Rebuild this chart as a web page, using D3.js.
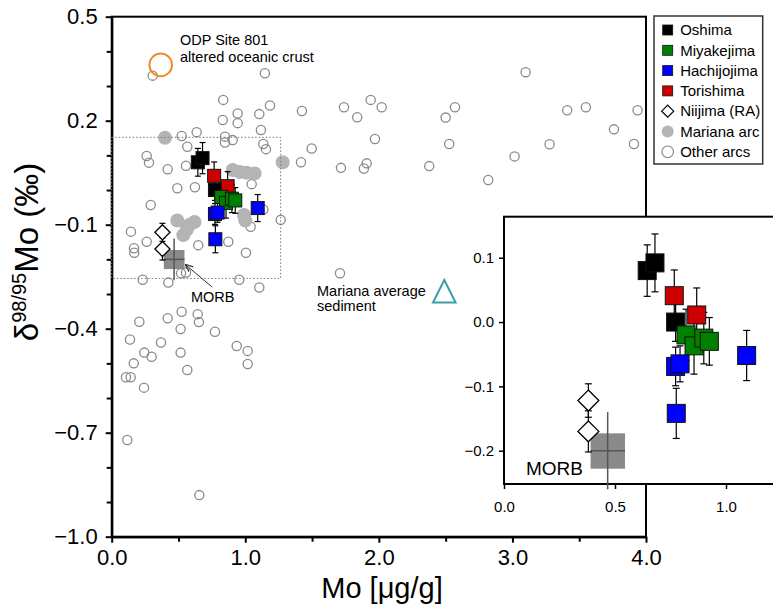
<!DOCTYPE html>
<html>
<head>
<meta charset="utf-8">
<title></title>
<script src="https://d3js.org/d3.v7.min.js"></script>
<style>
body { margin: 0; background: #fff; }
text { font-family: Arial, "Liberation Sans", sans-serif; }
</style>
</head>
<body>
<script>
var w = 773, h = 606;

// [Mo ug/g, d98/95Mo permil, 2sd]
var oshima      = [[0.645, 0.080, 0.040], [0.68, 0.092, 0.045], [0.773, 0.000, 0.030]];
var torishima   = [[0.767, 0.041, 0.040], [0.868, 0.011, 0.042]];
var miyakejima  = [[0.82, -0.020, 0.040], [0.856, -0.037, 0.044], [0.90, -0.025, 0.040], [0.925, -0.030, 0.037]];
var hachijojima = [[0.773, -0.069, 0.030], [0.793, -0.065, 0.028], [0.776, -0.142, 0.039], [1.093, -0.052, 0.039]];
var niijima     = [[0.38, -0.122, 0.026], [0.38, -0.170, 0.032]];

var marianaArc = [[0.399, 0.151], [1.28, 0.080], [0.906, 0.058], [0.96, 0.052], [1.01, 0.050], [1.07, 0.048],
  [0.491, -0.088], [0.581, -0.101], [0.62, -0.092], [0.561, -0.115], [0.536, -0.130], [0.99, -0.072], [1.0, -0.088]];

var otherArcs = [[0.307, 0.330], [1.147, 0.337], [3.099, 0.340],
  [0.835, 0.260], [1.185, 0.244], [0.943, 0.221], [1.105, 0.219], [0.831, 0.202], [0.943, 0.193], [1.424, 0.228],
  [1.739, 0.239], [1.939, 0.260], [2.021, 0.239], [1.838, 0.210], [2.570, 0.239], [2.50, 0.209], [3.41, 0.230],
  [3.55, 0.239], [3.937, 0.230], [3.76, 0.175],
  [0.636, 0.167], [0.524, 0.156], [0.848, 0.154], [0.906, 0.144], [0.848, 0.137], [1.117, 0.173], [1.135, 0.133],
  [1.155, 0.118], [1.497, 0.120], [1.971, 0.147], [2.527, 0.133], [3.278, 0.132], [3.91, 0.133], [3.016, 0.097],
  [0.566, 0.125], [0.262, 0.098], [0.279, 0.079], [0.419, 0.060], [0.556, 0.070], [1.417, 0.080], [1.716, 0.064],
  [1.909, 0.077], [1.888, 0.062], [2.377, 0.069], [2.819, 0.029],
  [0.491, 0.005], [0.623, 0.008], [1.048, 0.017],
  [0.292, -0.043], [1.135, -0.056], [1.265, -0.086], [1.04, -0.106],
  [0.144, -0.120], [0.262, -0.149], [0.167, -0.168], [0.169, -0.181], [0.648, -0.159], [0.873, -0.149], [1.005, -0.181],
  [1.709, -0.240], [0.519, -0.240], [0.556, -0.238], [0.232, -0.259], [0.424, -0.267], [0.955, -0.259], [1.105, -0.281],
  [0.207, -0.380], [0.419, -0.370], [0.524, -0.351], [0.644, -0.358], [0.653, -0.381], [0.516, -0.401], [0.773, -0.409],
  [0.137, -0.431], [0.369, -0.440], [0.244, -0.469], [0.299, -0.481], [0.516, -0.469], [0.936, -0.450], [1.018, -0.464],
  [1.018, -0.502], [0.165, -0.500], [0.566, -0.519], [0.107, -0.540], [0.142, -0.540], [0.242, -0.570],
  [0.117, -0.721], [0.656, -0.880]];

var odp801 = [0.367, 0.361];
var marianaSed = [2.49, -0.292];
// MORB: center, box extent, error extent
var morb = { x: 0.467, y: -0.2, x0: 0.39, x1: 0.545, y0: -0.228, y1: -0.173, e0: -0.26, e1: -0.14 };
var zoomBox = { x0: 0, x1: 1.265, y0: -0.255, y1: 0.152 };

var xTicks = [0, 1, 2, 3, 4];
var xMinor = [0.5, 1.5, 2.5, 3.5];
var yTicks = [-1.0, -0.7, -0.4, -0.1, 0.2, 0.5];
var yMinor = [-0.9, -0.8, -0.6, -0.5, -0.3, -0.2, 0.0, 0.1, 0.3, 0.4];
var insetXTicks = [0, 0.5, 1.0];
var insetYTicks = [-0.2, -0.1, 0.0, 0.1];

var series = [
  { name: "Oshima", data: oshima, color: "#000000" },
  { name: "Torishima", data: torishima, color: "#cc0000" },
  { name: "Miyakejima", data: miyakejima, color: "#008000" },
  { name: "Hachijojima", data: hachijojima, color: "#0000ff" }
];

var svg = d3.select("body").append("svg").attr("width", w).attr("height", h);

var x = d3.scaleLinear().domain([0, 4]).range([111.7, 646]);
var y = d3.scaleLinear().domain([-1, 0.5]).range([536.7, 16.7]);

// frame
svg.append("rect")
  .attr("x", x(0)).attr("y", y(0.5))
  .attr("width", x(4) - x(0)).attr("height", y(-1) - y(0.5))
  .attr("fill", "none").attr("stroke", "#000").attr("stroke-width", 2);

function fmt(d) { return d3.format(".1f")(d); }

var xAxis = svg.append("g").attr("transform", "translate(0," + y(-1) + ")")
  .call(d3.axisBottom(x).tickValues(xTicks).tickFormat(fmt).tickSize(6).tickSizeOuter(0).tickPadding(7));
svg.append("g").attr("transform", "translate(0," + y(-1) + ")")
  .call(d3.axisBottom(x).tickValues(xMinor).tickFormat("").tickSize(5).tickSizeOuter(0));
var yAxis = svg.append("g").attr("transform", "translate(" + x(0) + ",0)")
  .call(d3.axisLeft(y).tickValues(yTicks).tickFormat(fmt).tickSize(6).tickSizeOuter(0).tickPadding(8));
svg.append("g").attr("transform", "translate(" + x(0) + ",0)")
  .call(d3.axisLeft(y).tickValues(yMinor).tickFormat("").tickSize(5).tickSizeOuter(0));
svg.selectAll(".domain").attr("stroke-width", 2);
svg.selectAll(".tick line").attr("stroke-width", 2);
xAxis.selectAll("text").attr("font-size", 22).attr("fill", "#000");
yAxis.selectAll("text").attr("font-size", 22).attr("fill", "#000");

// axis titles
svg.append("text").attr("x", 382).attr("y", 598).attr("text-anchor", "middle")
  .attr("font-size", 29).text("Mo [\u03bcg/g]");
var yt = svg.append("text").attr("transform", "translate(38,252) rotate(-90)")
  .attr("text-anchor", "middle").attr("font-size", 33);
yt.append("tspan").text("\u03b4");
yt.append("tspan").attr("font-size", 20).attr("dy", -12).text("98/95");
yt.append("tspan").attr("dy", 12).text("Mo (\u2030)");

// other arcs
svg.append("g").selectAll("circle").data(otherArcs).enter().append("circle")
  .attr("cx", function(d) { return x(d[0]); })
  .attr("cy", function(d) { return y(d[1]); })
  .attr("r", 4.6).attr("fill", "none").attr("stroke", "#8a8a8a").attr("stroke-width", 1.3);

// mariana arc
svg.append("g").selectAll("circle").data(marianaArc).enter().append("circle")
  .attr("cx", function(d) { return x(d[0]); })
  .attr("cy", function(d) { return y(d[1]); })
  .attr("r", 7).attr("fill", "#b4b4b4");

// zoom area
svg.append("rect")
  .attr("x", x(zoomBox.x0)).attr("y", y(zoomBox.y1))
  .attr("width", x(zoomBox.x1) - x(zoomBox.x0)).attr("height", y(zoomBox.y0) - y(zoomBox.y1))
  .attr("fill", "none").attr("stroke", "#777").attr("stroke-width", 1).attr("stroke-dasharray", "1.5,2");

// ODP site 801
svg.append("circle").attr("cx", x(odp801[0])).attr("cy", y(odp801[1])).attr("r", 11.3)
  .attr("fill", "none").attr("stroke", "#f08a2c").attr("stroke-width", 2);
svg.append("text").attr("x", 180).attr("y", 45).attr("font-size", 14.5).text("ODP Site 801");
svg.append("text").attr("x", 180).attr("y", 61.5).attr("font-size", 14.5).text("altered oceanic crust");

// Mariana sediment
var tx = x(marianaSed[0]), ty = y(marianaSed[1]);
svg.append("path")
  .attr("d", "M" + tx + "," + (ty - 11.3) + "L" + (tx + 11.3) + "," + (ty + 11.3) + "L" + (tx - 11.3) + "," + (ty + 11.3) + "Z")
  .attr("fill", "none").attr("stroke", "#3b9ea6").attr("stroke-width", 2);
svg.append("text").attr("x", 317).attr("y", 296).attr("font-size", 14.5).text("Mariana average");
svg.append("text").attr("x", 317).attr("y", 311).attr("font-size", 14.5).text("sediment");

function drawMorb(g, xs, ys) {
  g.append("rect")
    .attr("x", xs(morb.x0)).attr("y", ys(morb.y1))
    .attr("width", xs(morb.x1) - xs(morb.x0)).attr("height", ys(morb.y0) - ys(morb.y1))
    .attr("fill", "#8a8a8a");
  g.append("line").attr("x1", xs(morb.x)).attr("x2", xs(morb.x))
    .attr("y1", ys(morb.e1)).attr("y2", ys(morb.e0)).attr("stroke", "#555").attr("stroke-width", 1.5);
  g.append("line").attr("x1", xs(morb.x0)).attr("x2", xs(morb.x1))
    .attr("y1", ys(morb.y)).attr("y2", ys(morb.y)).attr("stroke", "#555").attr("stroke-width", 1.5);
}

function drawIslands(g, xs, ys, size, cap) {
  var all = [];
  series.forEach(function(s) { s.data.forEach(function(d) { all.push(d); }); });
  niijima.forEach(function(d) { all.push(d); });
  // error bars
  var eb = g.append("g").attr("stroke", "#000").attr("stroke-width", 1.2);
  all.forEach(function(d) {
    var cx = xs(d[0]);
    eb.append("line").attr("x1", cx).attr("x2", cx).attr("y1", ys(d[1] - d[2])).attr("y2", ys(d[1] + d[2]));
    eb.append("line").attr("x1", cx - cap / 2).attr("x2", cx + cap / 2).attr("y1", ys(d[1] - d[2])).attr("y2", ys(d[1] - d[2]));
    eb.append("line").attr("x1", cx - cap / 2).attr("x2", cx + cap / 2).attr("y1", ys(d[1] + d[2])).attr("y2", ys(d[1] + d[2]));
  });
  series.forEach(function(s) {
    g.append("g").selectAll("rect").data(s.data).enter().append("rect")
      .attr("x", function(d) { return xs(d[0]) - size / 2; })
      .attr("y", function(d) { return ys(d[1]) - size / 2; })
      .attr("width", size).attr("height", size)
      .attr("fill", s.color).attr("stroke", "#111").attr("stroke-width", 1);
  });
  var r = size * 0.58;
  g.append("g").selectAll("path").data(niijima).enter().append("path")
    .attr("d", function(d) {
      var cx = xs(d[0]), cy = ys(d[1]);
      return "M" + cx + "," + (cy - r) + "L" + (cx + r) + "," + cy + "L" + cx + "," + (cy + r) + "L" + (cx - r) + "," + cy + "Z";
    })
    .attr("fill", "#fff").attr("stroke", "#000").attr("stroke-width", 1.3);
}

var main = svg.append("g");
drawMorb(main, x, y);
drawIslands(main, x, y, 13, 6);

// MORB label + arrow
svg.append("defs").append("marker").attr("id", "ah").attr("viewBox", "0 0 10 10")
  .attr("refX", 10).attr("refY", 5).attr("markerWidth", 8).attr("markerHeight", 8).attr("orient", "auto")
  .append("path").attr("d", "M0,1L10,5L0,9").attr("fill", "none").attr("stroke", "#333").attr("stroke-width", 1.5);
svg.append("line").attr("x1", x(0.752)).attr("y1", y(-0.28)).attr("x2", x(0.549)).attr("y2", y(-0.214))
  .attr("stroke", "#333").attr("stroke-width", 1).attr("marker-end", "url(#ah)");
svg.append("text").attr("x", 191).attr("y", 302).attr("font-size", 14.5).text("MORB");

// inset
var ix = d3.scaleLinear().domain([0, 1.2]).range([504, 770.4]);
var iy = d3.scaleLinear().domain([-0.2518, 0.1638]).range([484, 216.7]);
svg.append("rect").attr("x", 504).attr("y", iy(0.1638)).attr("width", 280).attr("height", iy(-0.2518) - iy(0.1638))
  .attr("fill", "#fff").attr("stroke", "#000").attr("stroke-width", 2);
var inset = svg.append("g");
drawMorb(inset, ix, iy);
drawIslands(inset, ix, iy, 18, 7);
inset.append("text").attr("x", 526).attr("y", 475).attr("font-size", 19).text("MORB");
var iax = svg.append("g").attr("transform", "translate(0," + iy(-0.2518) + ")")
  .call(d3.axisBottom(ix).tickValues(insetXTicks).tickFormat(fmt).tickSize(5).tickSizeOuter(0).tickPadding(12));
var iay = svg.append("g").attr("transform", "translate(504,0)")
  .call(d3.axisLeft(iy).tickValues(insetYTicks).tickFormat(fmt).tickSize(5).tickSizeOuter(0).tickPadding(5));
iax.select(".domain").remove();
iay.select(".domain").remove();
iax.selectAll(".tick line").attr("stroke-width", 1.5);
iay.selectAll(".tick line").attr("stroke-width", 1.5);
iax.selectAll("text").attr("font-size", 15).attr("fill", "#000");
iay.selectAll("text").attr("font-size", 15).attr("fill", "#000");

// legend
var legendItems = [
  { name: "Oshima", type: "square", color: "#000000" },
  { name: "Miyakejima", type: "square", color: "#008000" },
  { name: "Hachijojima", type: "square", color: "#0000ff" },
  { name: "Torishima", type: "square", color: "#cc0000" },
  { name: "Niijima (RA)", type: "diamond" },
  { name: "Mariana arc", type: "filled" },
  { name: "Other arcs", type: "open" }
];
var lg = svg.append("g").attr("transform", "translate(654,16)");
lg.append("rect").attr("width", 108.7).attr("height", 148).attr("fill", "#fff")
  .attr("stroke", "#333").attr("stroke-width", 1.5);
var li = lg.selectAll("g").data(legendItems).enter().append("g")
  .attr("transform", function(d, i) { return "translate(13.7," + (14 + i * 20.3) + ")"; });
li.each(function(d) {
  var g = d3.select(this);
  if (d.type == "square") {
    g.append("rect").attr("x", -5).attr("y", -5).attr("width", 10).attr("height", 10)
      .attr("fill", d.color).attr("stroke", "#111").attr("stroke-width", 0.8);
  } else if (d.type == "diamond") {
    g.append("path").attr("d", "M0,-6L6,0L0,6L-6,0Z").attr("fill", "#fff").attr("stroke", "#000").attr("stroke-width", 1.2);
  } else if (d.type == "filled") {
    g.append("circle").attr("r", 6).attr("fill", "#b4b4b4");
  } else {
    g.append("circle").attr("r", 5.8).attr("fill", "none").attr("stroke", "#8a8a8a").attr("stroke-width", 1.2);
  }
  g.append("text").attr("x", 12.5).attr("dy", "0.35em").attr("font-size", 15).text(d.name);
});
</script>
</body>
</html>
